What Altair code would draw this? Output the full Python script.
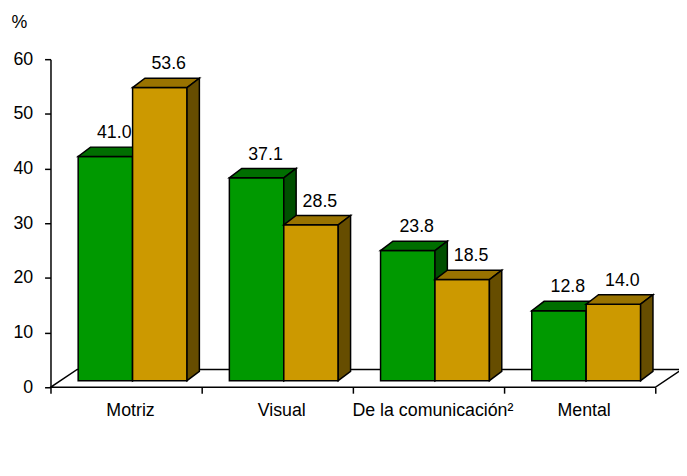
import json
import altair as alt
import pandas as pd

# ---- data ----
categories = ["Motriz", "Visual", "De la comunicación²", "Mental"]
series = ["Rural", "Urbana"]
rural = [41.0, 37.1, 23.8, 12.8]
urbana = [53.6, 28.5, 18.5, 14.0]
y_ticks = [0, 10, 20, 30, 40, 50, 60]

# ---- styles ----
FONT = "Liberation Sans"
front_colors = {"Rural": "#009900", "Urbana": "#CC9900"}
top_colors = {"Rural": "#006E00", "Urbana": "#997300"}
side_colors = {"Rural": "#004F00", "Urbana": "#664D00"}

# ---- layout (x in category-band units, y in value units) ----
PLOT_W, PLOT_H = 636, 332
BAND_PX = 153.0
NCAT = len(categories)
XMAX = PLOT_W / BAND_PX
YMAX = 60
PX_Y = YMAX / PLOT_H
GROUP_START = 0.183
BAR_W = 0.36
BDX = 12.5 / BAND_PX
BDY = 9.5 * PX_Y
BASE = 1.2
FDX = 27 / BAND_PX
FDY = 18 * PX_Y
LABEL_SHIFT = 9 / BAND_PX

rows_front, rows_poly, rows_text = [], [], []
for si, (s, vals) in enumerate(zip(series, [rural, urbana])):
    for ci, (c, v) in enumerate(zip(categories, vals)):
        x0 = ci + GROUP_START + si * BAR_W
        x1 = x0 + BAR_W
        top = BASE + v
        rows_front.append(dict(series=s, cat=c, x0=x0, x1=x1, y0=BASE, y1=top))
        pid = f"{s}|{c}"
        pts_top = [(x0, top, top), (x0 + BDX, top, top + BDY),
                   (x1, top, top + BDY), (x1 + BDX, top + BDY, top + BDY)]
        for xx, lo, hi in pts_top:
            rows_poly.append(dict(series=s, pid=pid + "|top", px=xx, lo=lo, hi=hi,
                                  col=top_colors[s]))
        pts_side = [(x1, BASE, top), (x1 + BDX, BASE + BDY, top + BDY)]
        for xx, lo, hi in pts_side:
            rows_poly.append(dict(series=s, pid=pid + "|side", px=xx, lo=lo, hi=hi,
                                  col=side_colors[s]))
        rows_text.append(dict(series=s, tx=x0 + BAR_W / 2 + LABEL_SHIFT, ty=top + BDY,
                              label=f"{v:.1f}"))

floor_pts = [(0, 0, 0), (FDX, 0, FDY), (NCAT, 0, FDY), (NCAT + FDX, FDY, FDY)]
floor_df = pd.DataFrame([dict(px=x, lo=lo, hi=hi) for (x, lo, hi) in floor_pts])
front_df = pd.DataFrame(rows_front)
poly_df = pd.DataFrame(rows_poly)
text_df = pd.DataFrame(rows_text)

XS = alt.Scale(domain=[0, XMAX], nice=False, zero=False)
YS = alt.Scale(domain=[0, YMAX], nice=False)

label_arr = json.dumps(categories + [""], ensure_ascii=False)
X_AX = alt.Axis(values=list(range(NCAT + 1)), labelExpr=f"{label_arr}[datum.value]",
                labelOffset=BAND_PX / 2 + 4, domain=False, labelPadding=9,
                labelFlush=False, labelOverlap=False, title=None)
Y_AX = alt.Axis(values=y_ticks, domain=True, labelPadding=12,
                title="%", titleAngle=0, titleX=-32, titleY=-37, titleAlign="center",
                titleBaseline="middle")

floor = alt.Chart(floor_df).mark_area(
    orient="vertical", fill="white", stroke="black", strokeWidth=1.5
).encode(
    x=alt.X("px:Q", scale=XS, axis=X_AX),
    y=alt.Y("lo:Q", scale=YS, axis=Y_AX),
    y2="hi:Q",
)

layers = [floor]
for s in series:
    front = alt.Chart(front_df).transform_filter(alt.datum.series == s).mark_rect(
        stroke="black", strokeWidth=1.5, opacity=1
    ).encode(
        x=alt.X("x0:Q", scale=XS, axis=X_AX),
        x2="x1:Q",
        y=alt.Y("y0:Q", scale=YS, axis=Y_AX),
        y2="y1:Q",
        color=alt.Color("series:N",
                        scale=alt.Scale(domain=series,
                                        range=[front_colors[k] for k in series]),
                        legend=None),
    )
    faces = alt.Chart(poly_df).transform_filter(alt.datum.series == s).mark_area(
        orient="vertical", stroke="black", strokeWidth=1.5, opacity=1
    ).encode(
        x=alt.X("px:Q", scale=XS, axis=X_AX),
        y=alt.Y("lo:Q", scale=YS, axis=Y_AX),
        y2="hi:Q",
        detail="pid:N",
        fill=alt.Fill("col:N", scale=None),
    )
    layers += [front, faces]

text = alt.Chart(text_df).mark_text(
    font=FONT, fontSize=18, baseline="alphabetic", align="center", dy=-9, color="black"
).encode(
    x=alt.X("tx:Q", scale=XS, axis=X_AX),
    y=alt.Y("ty:Q", scale=YS, axis=Y_AX),
    text="label:N",
)
layers.append(text)

chart = alt.layer(*layers).properties(
    width=PLOT_W, height=PLOT_H,
    autosize=alt.AutoSizeParams(type="none"),
    padding={"left": 43, "top": 49, "right": 0, "bottom": 87},
).configure_view(
    stroke=None
).configure_axis(
    grid=False, ticks=True, tickSize=6, tickColor="black", tickWidth=1.5,
    domainColor="black", domainWidth=1.5,
    labelFontSize=18, labelFont=FONT, labelColor="black",
    titleFontSize=18, titleFont=FONT, titleFontWeight="normal", titleColor="black",
)

chart.save("out.html", embed_options={"renderer": "svg", "actions": False})
